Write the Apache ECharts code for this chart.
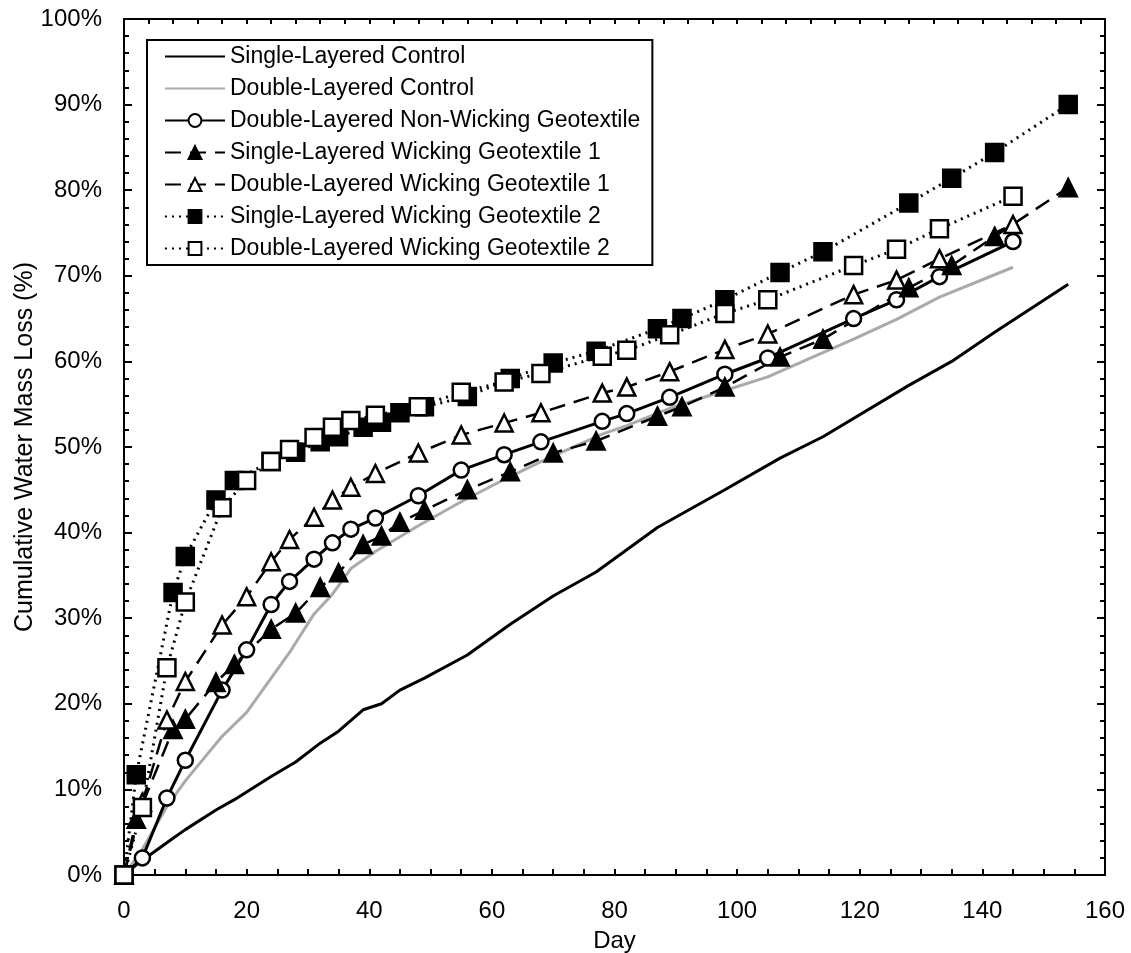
<!DOCTYPE html>
<html>
<head>
<meta charset="utf-8">
<script src="https://cdn.jsdelivr.net/npm/echarts@6/dist/echarts.min.js"></script>
<style>
  html, body { margin: 0; padding: 0; background: #fff; }
  #chart { width: 1131px; height: 953px; }
</style>
</head>
<body>
<div id="chart"></div>
<script>
// measurement days
var daysSingle = [0, 2, 8, 10, 15, 18, 24, 28, 32, 35, 39, 42, 45, 49, 56, 63, 70, 77, 87, 91, 98, 107, 114, 128, 135, 142, 154];
var daysDouble = [0, 3, 7, 10, 16, 20, 24, 27, 31, 34, 37, 41, 48, 55, 62, 68, 78, 82, 89, 98, 105, 119, 126, 133, 145];

// cumulative water mass loss (%)
var singleControl = [0, 1.2, 4.3, 5.3, 7.6, 8.8, 11.5, 13.2, 15.4, 16.8, 19.3, 20, 21.6, 23, 25.7, 29.3, 32.6, 35.4, 40.6, 42.2, 45, 48.7, 51.2, 57.2, 60, 63.4, 69];
var doubleControl = [0, 3, 8, 11, 16.2, 19, 23, 26, 30.5, 32.8, 35.8, 37.8, 40.8, 43.6, 46.2, 48.3, 51.5, 52.5, 54.5, 56.6, 58.2, 62.6, 64.9, 67.5, 71];
var doubleNonWicking = [0, 2, 9, 13.4, 21.6, 26.3, 31.6, 34.3, 36.9, 38.8, 40.4, 41.7, 44.3, 47.3, 49.1, 50.6, 53, 53.9, 55.8, 58.5, 60.4, 65, 67.2, 69.9, 74];
var singleWicking1 = [0, 6.5, 17, 18.2, 22.5, 24.6, 28.7, 30.6, 33.6, 35.3, 38.6, 39.6, 41.2, 42.6, 45, 47.1, 49.3, 50.7, 53.6, 54.7, 57, 60.5, 62.6, 68.6, 71.2, 74.6, 80.3];
var doubleWicking1 = [0, 8.5, 18.1, 22.6, 29.2, 32.5, 36.6, 39.2, 41.8, 43.8, 45.3, 46.9, 49.3, 51.4, 52.8, 54, 56.3, 57, 58.8, 61.4, 63.2, 67.8, 69.5, 72, 76];
var singleWicking2 = [0, 11.7, 33, 37.2, 43.8, 46.1, 48.3, 49.4, 50.6, 51.2, 52.3, 52.9, 54, 54.7, 55.9, 58, 59.8, 61.2, 63.8, 65, 67.2, 70.4, 72.8, 78.5, 81.4, 84.4, 90];
var doubleWicking2 = [0, 7.9, 24.2, 31.9, 42.9, 46.1, 48.3, 49.7, 51.1, 52.3, 53.1, 53.7, 54.7, 56.4, 57.6, 58.6, 60.6, 61.3, 63.1, 65.6, 67.2, 71.2, 73.1, 75.5, 79.3];

var FONT = 'Liberation Sans, Arial, sans-serif';

function pairs(days, vals) {
    var out = [];
    for (var i = 0; i < days.length; i++) out.push([days[i], vals[i]]);
    return out;
}

function makeSerie(name, days, vals, line, symbol) {
    var s = {
        name: name,
        type: 'line',
        data: pairs(days, vals),
        lineStyle: line,
        symbol: 'none',
        showSymbol: false,
        // no marker: keep the legend dot invisible
        itemStyle: { color: 'rgba(0,0,0,0)', borderWidth: 0 }
    };
    if (symbol) {
        s.symbol = symbol.type;
        s.showSymbol = true;
        s.symbolSize = symbol.size;
        s.itemStyle = { color: symbol.fill, borderColor: '#000', borderWidth: 2.5 };
    }
    return s;
}

var solid = { color: '#000', width: 3, type: 'solid' };
var gray = { color: '#aaa', width: 3, type: 'solid' };
var dashed = { color: '#000', width: 2.5, type: [16, 9] };
var dotted = { color: '#000', width: 3, type: [2, 5] };

var tickLine = { color: '#000', width: 2 };

// helper grids along the plot edges: their axes' outward ticks end up pointing into the plot
function grid(l, t, w, h) {
    return { left: l, top: t, width: w, height: h, containLabel: false, outerBoundsMode: 'none' };
}
function tickAxis(gridIndex, pos, min, max, interval, len, minorSplit, minorLen, showLine) {
    return {
        type: 'value',
        gridIndex: gridIndex,
        position: pos,
        min: min, max: max, interval: interval,
        axisLine: { show: showLine, onZero: false, lineStyle: tickLine },
        axisTick: { show: true, length: len, lineStyle: tickLine },
        minorTick: { show: !!minorSplit, splitNumber: minorSplit || 5, length: minorLen, lineStyle: tickLine },
        splitLine: { show: false },
        axisLabel: { show: false }
    };
}
function hiddenAxis(gridIndex) {
    return { type: 'value', gridIndex: gridIndex, show: false, min: 0, max: 1, axisLine: { onZero: false } };
}

var option = {
    animation: false,
    backgroundColor: '#fff',
    textStyle: { fontFamily: FONT },
    grid: [
        grid(124, 19, 981, 856),   // plot
        grid(124, 875, 981, 78),   // bottom edge ticks
        grid(124, 0, 981, 19),     // top frame
        grid(132, 19, 900, 856),   // left major ticks (8px, ending on the axis)
        grid(129, 19, 900, 856),   // left minor ticks (5px)
        grid(1105, 19, 26, 856)    // right frame
    ],
    legend: {
        orient: 'vertical',
        left: 147,
        top: 40,
        itemWidth: 60,
        itemHeight: 16,
        itemGap: 9,
        padding: [5, 12, 5, 17],
        borderColor: '#000',
        borderWidth: 2,
        backgroundColor: '#fff',
        textStyle: { fontSize: 23, color: '#000', fontFamily: FONT },
        data: ['Single-Layered Control', 'Double-Layered Control', 'Double-Layered Non-Wicking Geotextile',
            'Single-Layered Wicking Geotextile 1', 'Double-Layered Wicking Geotextile 1',
            'Single-Layered Wicking Geotextile 2', 'Double-Layered Wicking Geotextile 2']
    },
    xAxis: [{
        type: 'value',
        gridIndex: 0,
        position: 'bottom',
        min: 0, max: 160, interval: 20,
        name: 'Day',
        nameLocation: 'middle',
        nameGap: 54,
        nameTextStyle: { fontSize: 24, color: '#000' },
        axisLine: { show: true, onZero: false, lineStyle: tickLine },
        axisTick: { show: false },
        splitLine: { show: false },
        axisLabel: { fontSize: 24, color: '#000', margin: 24 }
    },
        tickAxis(1, 'top', 0, 160, 20, 6, 4, 6, false),
        tickAxis(2, 'bottom', 0, 160, 4, 5, 0, 0, true),
        hiddenAxis(3),
        hiddenAxis(4),
        hiddenAxis(5)
    ],
    yAxis: [{
        type: 'value',
        gridIndex: 0,
        position: 'left',
        min: 0, max: 100, interval: 10,
        name: 'Cumulative Water Mass Loss (%)',
        nameLocation: 'middle',
        nameGap: 86,
        nameMoveOverlap: false,
        nameTextStyle: { fontSize: 25, color: '#000' },
        axisLine: { show: true, onZero: false, lineStyle: tickLine },
        axisTick: { show: false },
        splitLine: { show: false },
        axisLabel: { fontSize: 24, color: '#000', margin: 22, formatter: '{value}%' }
    },
        hiddenAxis(1),
        hiddenAxis(2),
        tickAxis(3, 'left', 0, 100, 10, 8, 0, 0, false),
        tickAxis(4, 'left', 0, 100, 2, 5, 0, 0, false),
        tickAxis(5, 'left', 0, 100, 10, 8, 5, 5, true)
    ],
    series: [
        makeSerie('Single-Layered Control', daysSingle, singleControl, solid),
        makeSerie('Double-Layered Control', daysDouble, doubleControl, gray),
        makeSerie('Double-Layered Non-Wicking Geotextile', daysDouble, doubleNonWicking, solid,
            { type: 'circle', size: 15, fill: '#fff' }),
        makeSerie('Single-Layered Wicking Geotextile 1', daysSingle, singleWicking1, dashed,
            { type: 'triangle', size: 17, fill: '#000' }),
        makeSerie('Double-Layered Wicking Geotextile 1', daysDouble, doubleWicking1, dashed,
            { type: 'triangle', size: 17, fill: '#fff' }),
        makeSerie('Single-Layered Wicking Geotextile 2', daysSingle, singleWicking2, dotted,
            { type: 'rect', size: 17, fill: '#000' }),
        makeSerie('Double-Layered Wicking Geotextile 2', daysDouble, doubleWicking2, dotted,
            { type: 'rect', size: 17, fill: '#fff' })
    ]
};

var chart = echarts.init(document.getElementById('chart'));
chart.setOption(option);
</script>
</body>
</html>
